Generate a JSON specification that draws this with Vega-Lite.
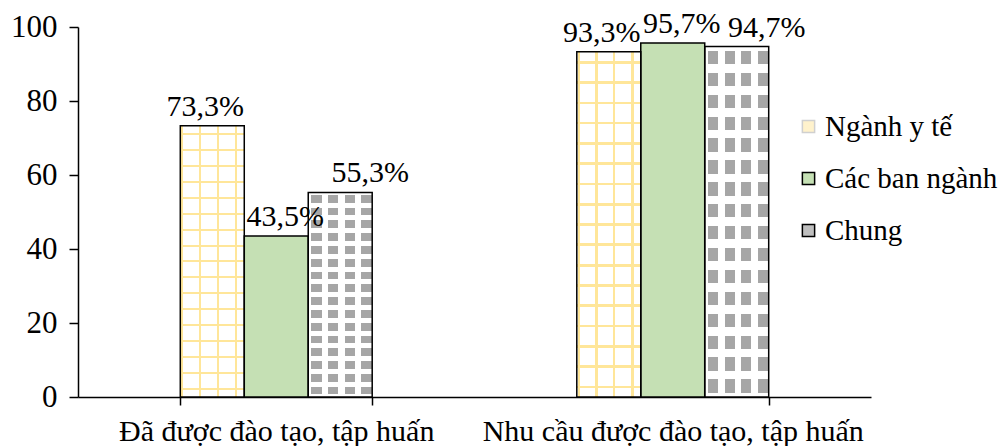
{
  "$schema": "https://vega.github.io/schema/vega-lite/v6.json",
  "width": 793,
  "height": 370,
  "autosize": {"type": "none"},
  "padding": {"left": 78, "top": 27, "right": 134, "bottom": 49},
  "background": "white",
  "config": {"view": {"stroke": null}, "font": "Times New Roman, Liberation Serif, serif"},
  "data": {"values": [
    {"cat": "Đã được đào tạo, tập huấn", "series": "Ngành y tế", "value": 73.3, "label": "73,3%"},
    {"cat": "Đã được đào tạo, tập huấn", "series": "Các ban ngành", "value": 43.5, "label": "43,5%"},
    {"cat": "Đã được đào tạo, tập huấn", "series": "Chung", "value": 55.3, "label": "55,3%"},
    {"cat": "Nhu cầu được đào tạo, tập huấn", "series": "Ngành y tế", "value": 93.3, "label": "93,3%"},
    {"cat": "Nhu cầu được đào tạo, tập huấn", "series": "Các ban ngành", "value": 95.7, "label": "95,7%"},
    {"cat": "Nhu cầu được đào tạo, tập huấn", "series": "Chung", "value": 94.7, "label": "94,7%"}
  ]},
  "encoding": {
    "x": {"field": "cat", "type": "nominal",
      "scale": {"domain": ["Đã được đào tạo, tập huấn", "Nhu cầu được đào tạo, tập huấn"], "paddingInner": 0.516, "paddingOuter": 0.258},
      "axis": {"title": null, "labelAngle": 0, "tickBand": "extent", "domainColor": "black", "tickColor": "black", "tickSize": 8, "domainWidth": 1.5, "tickWidth": 1.5, "labelFontSize": 30, "labelFont": "Times New Roman, Liberation Serif, serif", "labelColor": "black", "labelPadding": 11, "labelLimit": 0}},
    "xOffset": {"field": "series", "type": "nominal",
      "scale": {"domain": ["Ngành y tế", "Các ban ngành", "Chung"], "paddingOuter": 0, "paddingInner": 0}},
    "y": {"field": "value", "type": "quantitative",
      "scale": {"domain": [0, 100]},
      "axis": {"title": null, "values": [0, 20, 40, 60, 80, 100], "grid": false, "domainColor": "black", "tickColor": "black", "tickSize": 9, "domainWidth": 1.5, "tickWidth": 1.5, "labelFontSize": 31, "labelFont": "Times New Roman, Liberation Serif, serif", "labelColor": "black", "labelPadding": 12}}
  },
  "layer": [
    {
      "mark": {"type": "bar", "strokeWidth": 0},
      "encoding": {
        "fill": {"field": "series", "type": "nominal",
          "scale": {"domain": ["Ngành y tế", "Các ban ngành", "Chung"], "range": ["#fff2cc", "#c5e0b4", "#bfbfbf"]},
          "legend": {"title": null, "orient": "none", "legendX": 716, "legendY": 85, "labelFontSize": 29, "labelFont": "Times New Roman, Liberation Serif, serif", "labelColor": "black", "labelLimit": 0, "symbolType": "square", "symbolSize": 150, "symbolStrokeColor": "black", "symbolStrokeWidth": 1.5, "rowPadding": 22, "labelOffset": 2,
            "encode": {"symbols": {"update": {"stroke": {"signal": "datum.value === 'Ngành y tế' ? '#d0d0d0' : 'black'"}}}}}}
      }
    },
    {
      "transform": [{"filter": "datum.series === 'Ngành y tế'"}],
      "mark": {"type": "bar", "strokeWidth": 0, "fill": {"gradient": "linear", "x1": 0, "y1": 0, "x2": 1, "y2": 0, "stops": [
        {"offset": 0, "color": "#ffffff"},
        {"offset": 0.015, "color": "#ffffff"}, {"offset": 0.015, "color": "#ffe699"}, {"offset": 0.05, "color": "#ffe699"}, {"offset": 0.05, "color": "#ffffff"},
        {"offset": 0.29, "color": "#ffffff"}, {"offset": 0.29, "color": "#ffe699"}, {"offset": 0.325, "color": "#ffe699"}, {"offset": 0.325, "color": "#ffffff"},
        {"offset": 0.57, "color": "#ffffff"}, {"offset": 0.57, "color": "#ffe699"}, {"offset": 0.605, "color": "#ffe699"}, {"offset": 0.605, "color": "#ffffff"},
        {"offset": 0.855, "color": "#ffffff"}, {"offset": 0.855, "color": "#ffe699"}, {"offset": 0.89, "color": "#ffe699"}, {"offset": 0.89, "color": "#ffffff"},
        {"offset": 1, "color": "#ffffff"}]}}
    },
    {
      "transform": [{"filter": "datum.series === 'Ngành y tế'"}],
      "mark": {"type": "bar", "strokeWidth": 0, "fill": {"gradient": "linear", "x1": 0, "y1": 0, "x2": 0, "y2": 1, "stops": [
        {"offset": 0, "color": "rgba(255,230,153,0)"},
        {"offset": 0.026, "color": "rgba(255,230,153,0)"}, {"offset": 0.026, "color": "#ffe699"}, {"offset": 0.034, "color": "#ffe699"}, {"offset": 0.034, "color": "rgba(255,230,153,0)"},
        {"offset": 0.085, "color": "rgba(255,230,153,0)"}, {"offset": 0.085, "color": "#ffe699"}, {"offset": 0.093, "color": "#ffe699"}, {"offset": 0.093, "color": "rgba(255,230,153,0)"},
        {"offset": 0.144, "color": "rgba(255,230,153,0)"}, {"offset": 0.144, "color": "#ffe699"}, {"offset": 0.152, "color": "#ffe699"}, {"offset": 0.152, "color": "rgba(255,230,153,0)"},
        {"offset": 0.202, "color": "rgba(255,230,153,0)"}, {"offset": 0.202, "color": "#ffe699"}, {"offset": 0.21, "color": "#ffe699"}, {"offset": 0.21, "color": "rgba(255,230,153,0)"},
        {"offset": 0.261, "color": "rgba(255,230,153,0)"}, {"offset": 0.261, "color": "#ffe699"}, {"offset": 0.269, "color": "#ffe699"}, {"offset": 0.269, "color": "rgba(255,230,153,0)"},
        {"offset": 0.32, "color": "rgba(255,230,153,0)"}, {"offset": 0.32, "color": "#ffe699"}, {"offset": 0.328, "color": "#ffe699"}, {"offset": 0.328, "color": "rgba(255,230,153,0)"},
        {"offset": 0.379, "color": "rgba(255,230,153,0)"}, {"offset": 0.379, "color": "#ffe699"}, {"offset": 0.387, "color": "#ffe699"}, {"offset": 0.387, "color": "rgba(255,230,153,0)"},
        {"offset": 0.438, "color": "rgba(255,230,153,0)"}, {"offset": 0.438, "color": "#ffe699"}, {"offset": 0.446, "color": "#ffe699"}, {"offset": 0.446, "color": "rgba(255,230,153,0)"},
        {"offset": 0.496, "color": "rgba(255,230,153,0)"}, {"offset": 0.496, "color": "#ffe699"}, {"offset": 0.504, "color": "#ffe699"}, {"offset": 0.504, "color": "rgba(255,230,153,0)"},
        {"offset": 0.555, "color": "rgba(255,230,153,0)"}, {"offset": 0.555, "color": "#ffe699"}, {"offset": 0.563, "color": "#ffe699"}, {"offset": 0.563, "color": "rgba(255,230,153,0)"},
        {"offset": 0.614, "color": "rgba(255,230,153,0)"}, {"offset": 0.614, "color": "#ffe699"}, {"offset": 0.622, "color": "#ffe699"}, {"offset": 0.622, "color": "rgba(255,230,153,0)"},
        {"offset": 0.673, "color": "rgba(255,230,153,0)"}, {"offset": 0.673, "color": "#ffe699"}, {"offset": 0.681, "color": "#ffe699"}, {"offset": 0.681, "color": "rgba(255,230,153,0)"},
        {"offset": 0.732, "color": "rgba(255,230,153,0)"}, {"offset": 0.732, "color": "#ffe699"}, {"offset": 0.74, "color": "#ffe699"}, {"offset": 0.74, "color": "rgba(255,230,153,0)"},
        {"offset": 0.79, "color": "rgba(255,230,153,0)"}, {"offset": 0.79, "color": "#ffe699"}, {"offset": 0.798, "color": "#ffe699"}, {"offset": 0.798, "color": "rgba(255,230,153,0)"},
        {"offset": 0.849, "color": "rgba(255,230,153,0)"}, {"offset": 0.849, "color": "#ffe699"}, {"offset": 0.857, "color": "#ffe699"}, {"offset": 0.857, "color": "rgba(255,230,153,0)"},
        {"offset": 0.908, "color": "rgba(255,230,153,0)"}, {"offset": 0.908, "color": "#ffe699"}, {"offset": 0.916, "color": "#ffe699"}, {"offset": 0.916, "color": "rgba(255,230,153,0)"},
        {"offset": 0.967, "color": "rgba(255,230,153,0)"}, {"offset": 0.967, "color": "#ffe699"}, {"offset": 0.975, "color": "#ffe699"}, {"offset": 0.975, "color": "rgba(255,230,153,0)"},
        {"offset": 1, "color": "rgba(255,230,153,0)"}]}}
    },
    {
      "transform": [{"filter": "datum.series === 'Chung'"}],
      "mark": {"type": "bar", "strokeWidth": 0, "fill": {"gradient": "linear", "x1": 0, "y1": 0, "x2": 1, "y2": 0, "stops": [
        {"offset": 0, "color": "#ffffff"},
        {"offset": 0.05, "color": "#ffffff"}, {"offset": 0.05, "color": "#a6a6a6"}, {"offset": 0.21, "color": "#a6a6a6"}, {"offset": 0.21, "color": "#ffffff"},
        {"offset": 0.31, "color": "#ffffff"}, {"offset": 0.31, "color": "#a6a6a6"}, {"offset": 0.47, "color": "#a6a6a6"}, {"offset": 0.47, "color": "#ffffff"},
        {"offset": 0.57, "color": "#ffffff"}, {"offset": 0.57, "color": "#a6a6a6"}, {"offset": 0.73, "color": "#a6a6a6"}, {"offset": 0.73, "color": "#ffffff"},
        {"offset": 0.83, "color": "#ffffff"}, {"offset": 0.83, "color": "#a6a6a6"}, {"offset": 0.99, "color": "#a6a6a6"}, {"offset": 0.99, "color": "#ffffff"},
        {"offset": 1, "color": "#ffffff"}]}}
    },
    {
      "transform": [{"filter": "datum.series === 'Chung'"}],
      "mark": {"type": "bar", "strokeWidth": 0, "fill": {"gradient": "linear", "x1": 0, "y1": 0, "x2": 0, "y2": 1, "stops": [
        {"offset": 0, "color": "#ffffff"},
        {"offset": 0.012, "color": "#ffffff"}, {"offset": 0.012, "color": "rgba(255,255,255,0)"}, {"offset": 0.05, "color": "rgba(255,255,255,0)"}, {"offset": 0.05, "color": "#ffffff"},
        {"offset": 0.0745, "color": "#ffffff"}, {"offset": 0.0745, "color": "rgba(255,255,255,0)"}, {"offset": 0.1125, "color": "rgba(255,255,255,0)"}, {"offset": 0.1125, "color": "#ffffff"},
        {"offset": 0.137, "color": "#ffffff"}, {"offset": 0.137, "color": "rgba(255,255,255,0)"}, {"offset": 0.175, "color": "rgba(255,255,255,0)"}, {"offset": 0.175, "color": "#ffffff"},
        {"offset": 0.1995, "color": "#ffffff"}, {"offset": 0.1995, "color": "rgba(255,255,255,0)"}, {"offset": 0.2375, "color": "rgba(255,255,255,0)"}, {"offset": 0.2375, "color": "#ffffff"},
        {"offset": 0.262, "color": "#ffffff"}, {"offset": 0.262, "color": "rgba(255,255,255,0)"}, {"offset": 0.3, "color": "rgba(255,255,255,0)"}, {"offset": 0.3, "color": "#ffffff"},
        {"offset": 0.3245, "color": "#ffffff"}, {"offset": 0.3245, "color": "rgba(255,255,255,0)"}, {"offset": 0.3625, "color": "rgba(255,255,255,0)"}, {"offset": 0.3625, "color": "#ffffff"},
        {"offset": 0.387, "color": "#ffffff"}, {"offset": 0.387, "color": "rgba(255,255,255,0)"}, {"offset": 0.425, "color": "rgba(255,255,255,0)"}, {"offset": 0.425, "color": "#ffffff"},
        {"offset": 0.4495, "color": "#ffffff"}, {"offset": 0.4495, "color": "rgba(255,255,255,0)"}, {"offset": 0.4875, "color": "rgba(255,255,255,0)"}, {"offset": 0.4875, "color": "#ffffff"},
        {"offset": 0.512, "color": "#ffffff"}, {"offset": 0.512, "color": "rgba(255,255,255,0)"}, {"offset": 0.55, "color": "rgba(255,255,255,0)"}, {"offset": 0.55, "color": "#ffffff"},
        {"offset": 0.5745, "color": "#ffffff"}, {"offset": 0.5745, "color": "rgba(255,255,255,0)"}, {"offset": 0.6125, "color": "rgba(255,255,255,0)"}, {"offset": 0.6125, "color": "#ffffff"},
        {"offset": 0.637, "color": "#ffffff"}, {"offset": 0.637, "color": "rgba(255,255,255,0)"}, {"offset": 0.675, "color": "rgba(255,255,255,0)"}, {"offset": 0.675, "color": "#ffffff"},
        {"offset": 0.6995, "color": "#ffffff"}, {"offset": 0.6995, "color": "rgba(255,255,255,0)"}, {"offset": 0.7375, "color": "rgba(255,255,255,0)"}, {"offset": 0.7375, "color": "#ffffff"},
        {"offset": 0.762, "color": "#ffffff"}, {"offset": 0.762, "color": "rgba(255,255,255,0)"}, {"offset": 0.8, "color": "rgba(255,255,255,0)"}, {"offset": 0.8, "color": "#ffffff"},
        {"offset": 0.8245, "color": "#ffffff"}, {"offset": 0.8245, "color": "rgba(255,255,255,0)"}, {"offset": 0.8625, "color": "rgba(255,255,255,0)"}, {"offset": 0.8625, "color": "#ffffff"},
        {"offset": 0.887, "color": "#ffffff"}, {"offset": 0.887, "color": "rgba(255,255,255,0)"}, {"offset": 0.925, "color": "rgba(255,255,255,0)"}, {"offset": 0.925, "color": "#ffffff"},
        {"offset": 0.9495, "color": "#ffffff"}, {"offset": 0.9495, "color": "rgba(255,255,255,0)"}, {"offset": 0.9875, "color": "rgba(255,255,255,0)"}, {"offset": 0.9875, "color": "#ffffff"},
        {"offset": 1, "color": "#ffffff"}]}}
    },
    {
      "mark": {"type": "bar", "fill": null, "fillOpacity": 0, "stroke": "black", "strokeWidth": 1.5}
    },
    {
      "mark": {"type": "text", "baseline": "alphabetic", "dy": -10, "fontSize": 30, "font": "Times New Roman, Liberation Serif, serif", "color": "black",
        "dx": {"expr": "datum.series === 'Chung' ? 30 : datum.series === 'Các ban ngành' ? 9 : -7"}},
      "encoding": {"text": {"field": "label", "type": "nominal"}}
    }
  ]
}
